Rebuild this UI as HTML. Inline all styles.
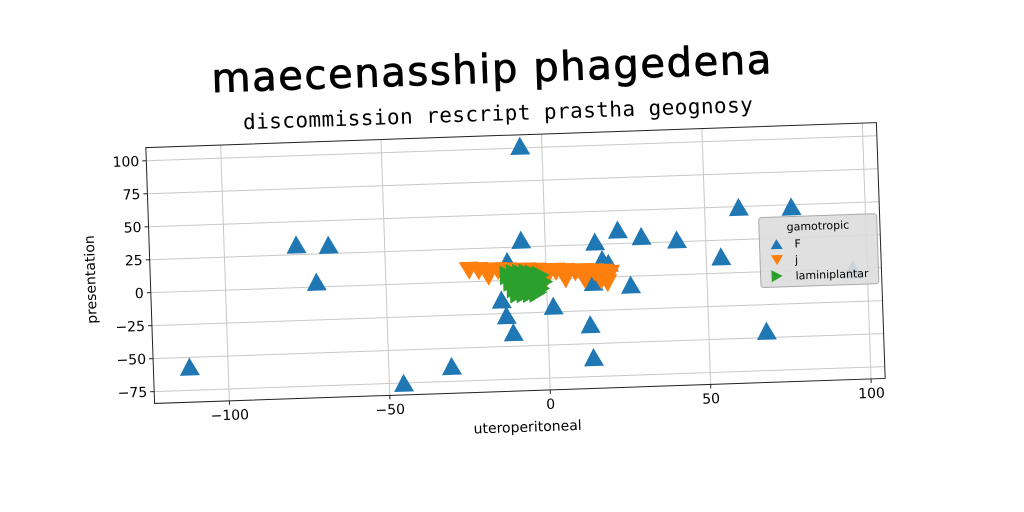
<!DOCTYPE html>
<html><head><meta charset="utf-8">
<style>
html,body{margin:0;padding:0;background:#fff;}
svg{display:block;}
text{font-family:"DejaVu Sans","Liberation Sans",sans-serif;}
</style></head>
<body>
<svg id="chart" width="1024" height="512" viewBox="0 0 1024 512">
<g id="rot" transform="rotate(-1.96 516 263)">
<text x="498" y="82" text-anchor="middle" font-size="40" font-weight="normal" stroke="#000" stroke-width="0.8" textLength="560" font-family="'Comic Sans MS','DejaVu Sans',cursive">maecenasship phagedena</text>
<text x="503" y="120" text-anchor="middle" font-size="21" textLength="510" style="font-family:'DejaVu Sans Mono','Liberation Mono',monospace">discommission rescript prastha geognosy</text>
<g id="grid"></g>
<g id="marks"></g>
<rect x="150" y="135" width="731" height="256" fill="none" stroke="#222" stroke-width="1"/>
<g id="ticks"></g>
<text x="522" y="432" text-anchor="middle" font-size="14">uteroperitoneal</text>
<text x="95" y="265" text-anchor="middle" font-size="14" transform="rotate(-90 95 265)">presentation</text>
<g>
<rect x="760" y="226" width="118" height="70" rx="3" fill="#ddd" fill-opacity="0.9" stroke="#aaa"/>
<text x="819" y="240" text-anchor="middle" font-size="11">gamotropic</text>
<path d="M771 258 L777 248 L783 258Z" fill="#1f77b4"/>
<text x="795" y="257" font-size="11">F</text>
<path d="M771 264 L783 264 L777 274Z" fill="#ff7f0e"/>
<text x="795" y="273" font-size="11">j</text>
<path d="M771 279 L782 285 L771 291Z" fill="#2ca02c"/>
<text x="795" y="289" font-size="11">laminiplantar</text>
</g>
</g>
</svg>
<script>
const xTicks = [-100, -50, 0, 50, 100];
const yTicks = [100, 75, 50, 25, 0, -25, -50, -75];
const fX = [-112, -77.5, -67.5, -71.6, -6.8, -45.5, -30.4, -7.5, -14.2, -12.8, -10.8, 1.9, 13.2, 13.9, 15.5, 14.6, 17.6, 19.5, 22.7, 30, 26.2, 41, 54.6, 60.6, 77, 68, 95.5, -12];
const fY = [-57.7, 32, 31, 3.3, 101, -75.5, -64, 29.8, -15, -27, -40, -21, -36, -61, 26.5, -4, 13, 10, 35, 29.5, -7, 26, 12, 49, 48, -45.5, -1.4, 14];
const jX = [-24, -21, -18, -15, -12, -9, -6, -3, 0, 3, 6, 9, 12, 15, 18, 20, -18, -12, -6, 0, 6, 12, 17, 19];
const jY = [9, 8.5, 8, 8, 7.5, 7, 7, 6.5, 6, 6, 5.5, 5, 5, 4.5, 4, 3, 4, 3, 2, 1, 0, -1, -2, -4];
const lX = [-12, -10, -8, -6, -4, -2, -11, -9, -7, -5, -3, -1, -10, -8, -6, -4, -2, -9, -7, -5, -3];
const lY = [4, 5, 5, 5, 4, 3, -1, 0, 0, 0, -1, -2, -6, -5, -5, -6, -7, -10, -10, -10, -10];

const X0 = -123.3, X1 = 104.4, Y0 = -84, Y1 = 110;
const L = 150, T = 135, W = 731, H = 256;
function sx(v){ return L + (v - X0) / (X1 - X0) * W; }
function sy(v){ return T + (Y1 - v) / (Y1 - Y0) * H; }
const NS = 'http://www.w3.org/2000/svg';
const grid = document.getElementById('grid');
const ticks = document.getElementById('ticks');
const marks = document.getElementById('marks');

xTicks.forEach(t => {
  const g = document.createElementNS(NS, 'line');
  g.setAttribute('x1', sx(t)); g.setAttribute('x2', sx(t));
  g.setAttribute('y1', T); g.setAttribute('y2', T + H);
  g.setAttribute('stroke', '#c8c8c8');
  
  
  grid.appendChild(g);
  const tk = document.createElementNS(NS, 'line');
  tk.setAttribute('x1', sx(t)); tk.setAttribute('x2', sx(t));
  tk.setAttribute('y1', T + H); tk.setAttribute('y2', T + H + 4);
  tk.setAttribute('stroke', '#222');
  
  
  ticks.appendChild(tk);
  const tx = document.createElementNS(NS, 'text');
  tx.setAttribute('x', sx(t)); tx.setAttribute('y', T + H + 19);
  tx.setAttribute('text-anchor', 'middle'); tx.setAttribute('font-size', '14');
  tx.textContent = t < 0 ? '\u2212' + Math.abs(t) : String(t);
  
  
  ticks.appendChild(tx);
});
yTicks.forEach(t => {
  const g = document.createElementNS(NS, 'line');
  g.setAttribute('x1', L); g.setAttribute('x2', L + W);
  g.setAttribute('y1', sy(t)); g.setAttribute('y2', sy(t));
  g.setAttribute('stroke', '#c8c8c8');
  
  
  grid.appendChild(g);
  const tk = document.createElementNS(NS, 'line');
  tk.setAttribute('x1', L - 4); tk.setAttribute('x2', L);
  tk.setAttribute('y1', sy(t)); tk.setAttribute('y2', sy(t));
  tk.setAttribute('stroke', '#222');
  
  
  ticks.appendChild(tk);
  const tx = document.createElementNS(NS, 'text');
  tx.setAttribute('x', L - 7); tx.setAttribute('y', sy(t) + 5);
  tx.setAttribute('text-anchor', 'end'); tx.setAttribute('font-size', '14');
  tx.textContent = t < 0 ? '\u2212' + Math.abs(t) : String(t);
  
  
  ticks.appendChild(tx);
});

function tri(x, y, kind){
  const p = document.createElementNS(NS, 'path');
  let d;
  if (kind === 'up') d = `M${x-10} ${y+8} L${x} ${y-10} L${x+10} ${y+8}Z`;
  else if (kind === 'down') d = `M${x-10} ${y-8} L${x+10} ${y-8} L${x} ${y+10}Z`;
  else d = `M${x-8} ${y-10} L${x+10} ${y} L${x-8} ${y+10}Z`;
  p.setAttribute('d', d);
  return p;
}
fX.forEach((v, i) => {
  const p = tri(sx(v), sy(fY[i]), 'up');
  p.setAttribute('fill', '#1f77b4');
  
  
  marks.appendChild(p);
});
jX.forEach((v, i) => {
  const p = tri(sx(v), sy(jY[i]), 'down');
  p.setAttribute('fill', '#ff7f0e');
  
  
  marks.appendChild(p);
});
lX.forEach((v, i) => {
  const p = tri(sx(v), sy(lY[i]), 'right');
  p.setAttribute('fill', '#2ca02c');
  
  
  marks.appendChild(p);
});
</script>
</body></html>
